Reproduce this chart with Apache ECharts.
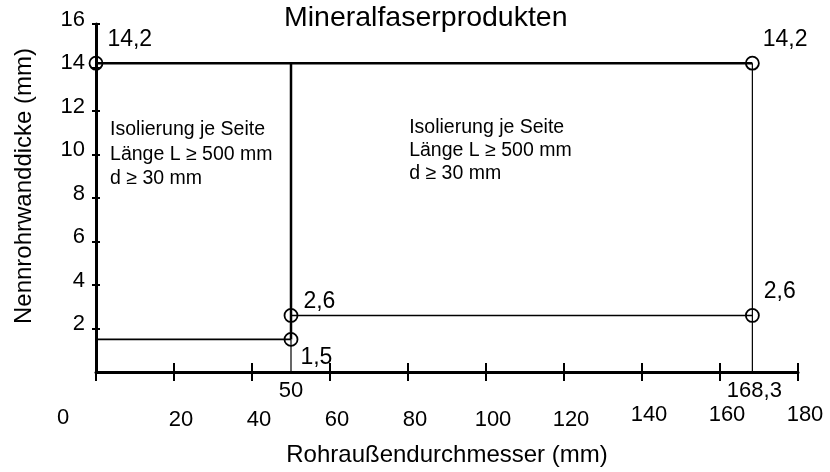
<!DOCTYPE html>
<html>
<head>
<meta charset="utf-8">
<script src="https://cdn.jsdelivr.net/npm/echarts@6.0.0/dist/echarts.min.js"></script>
<style>
html,body{margin:0;padding:0;background:#fff;}
#chart{width:830px;height:472px;}
</style>
</head>
<body>
<div id="chart"></div>
<script>
// ---- data ----
const titleText = 'Mineralfaserprodukten';
const xName = 'Rohraußendurchmesser (mm)';
const yName = 'Nennrohrwanddicke (mm)';
const xTicks = [0, 20, 40, 60, 80, 100, 120, 140, 160, 180];
const yTicks = [2, 4, 6, 8, 10, 12, 14, 16];
const pointX = [0, 168.3, 50, 50, 168.3];
const pointY = [14.2, 14.2, 2.6, 1.5, 2.6];
const pointLabels = ['14,2', '14,2', '2,6', '1,5', '2,6'];
const markX = [50, 168.3];
const markLabels = ['50', '168,3'];
const segStart = [[0, 14.2], [50, 14.2], [50, 1.5], [0, 1.5], [50, 2.6], [168.3, 14.2]];
const segEnd   = [[168.3, 14.2], [50, 1.5], [50, 0], [50, 1.5], [168.3, 2.6], [168.3, 0]];
const noteLines = ['Isolierung je Seite', 'Länge L ≥ 500 mm', 'd ≥ 30 mm'];
const noteAnchorX = [3.6, 80.3];
const noteAnchorY = [11.7, 11.75];

// ---- styles ----
const FONT = 'Liberation Sans, Arial, sans-serif';
const segWidths = [2.5, 2.5, 1.2, 1.6, 1.6, 1.2];
const labelOffsets = [[-1, -23], [-2, -23], [0, -14], [-3, 18], [-1, -24]];
const xMin = xTicks[0], xMax = xTicks[xTicks.length - 1];
const yMax = yTicks[yTicks.length - 1];

const series = [];
segStart.forEach((s, i) => {
  series.push({
    type: 'line', xAxisIndex: 0, yAxisIndex: 0,
    data: [s, segEnd[i]], symbol: 'none', silent: true, clip: false,
    lineStyle: { color: '#000', width: segWidths[i] }
  });
});
series.push({
  type: 'scatter', xAxisIndex: 0, yAxisIndex: 0,
  symbol: 'circle', symbolSize: 13,
  itemStyle: { color: 'rgba(0,0,0,0)', borderColor: '#000', borderWidth: 1.8, opacity: 1 },
  data: pointX.map((x, i) => ({
    value: [x, pointY[i]],
    label: {
      show: true, formatter: pointLabels[i], position: 'right', distance: 5,
      offset: labelOffsets[i], color: '#000', fontSize: 23, fontFamily: FONT
    }
  })),
  clip: false
});
series.push({
  type: 'scatter', xAxisIndex: 0, yAxisIndex: 0, symbolSize: 0, clip: false,
  itemStyle: { opacity: 1 },
  data: markX.map((x, i) => ({
    value: [x, 0],
    label: {
      show: true, formatter: markLabels[i], position: 'bottom', distance: 8,
      offset: [i === 1 ? 2 : 0, 0],
      color: '#000', fontSize: 22, fontFamily: FONT
    }
  }))
});
series.push({
  type: 'scatter', xAxisIndex: 0, yAxisIndex: 0, symbolSize: 0, clip: false,
  itemStyle: { opacity: 1 },
  data: noteAnchorX.map((x, i) => ({
    value: [x, noteAnchorY[i]],
    label: {
      show: true, formatter: noteLines.join('\n'), position: [0, 0],
      align: 'left', verticalAlign: 'top', lineHeight: i === 0 ? 24.5 : 23,
      color: '#000', fontSize: 19.5, fontFamily: FONT
    }
  }))
});

const richBase = { color: '#000', fontSize: 22, fontFamily: FONT };
const option = {
  animation: false,
  backgroundColor: '#fff',
  title: {
    text: titleText, left: 284, top: 4, padding: 0,
    textStyle: { color: '#000', fontSize: 28.5, fontWeight: 'normal', fontFamily: FONT }
  },
  grid: { left: 96, right: 32, top: 24, bottom: 96 },
  xAxis: [{
    type: 'value', min: xMin, max: xMax, interval: 20, position: 'bottom',
    name: xName, nameLocation: 'middle', nameGap: 71,
    nameTextStyle: { color: '#000', fontSize: 24, fontFamily: FONT },
    axisLine: { show: true, onZero: false, lineStyle: { color: '#000', width: 3 } },
    axisTick: { show: true, inside: false, length: 9, lineStyle: { color: '#000', width: 2 } },
    splitLine: { show: false },
    axisLabel: {
      show: true, margin: 32, verticalAlign: 'top',
      formatter: v => v === 0 ? '{z|0}' : (v >= 140 ? '{b|' + v + '}' : '{a|' + v + '}'),
      rich: {
        a: Object.assign({ padding: [5, 0, 0, 14] }, richBase),
        b: Object.assign({ padding: [0, 0, 0, 14] }, richBase),
        z: Object.assign({ padding: [3, 66, 0, 0] }, richBase)
      }
    }
  }, {
    type: 'value', min: xMin, max: xMax, interval: 20, position: 'bottom', offset: 0,
    axisLine: { show: false },
    axisTick: { show: true, inside: true, length: 9, lineStyle: { color: '#000', width: 2 } },
    axisLabel: { show: false }, splitLine: { show: false }
  }],
  yAxis: [{
    type: 'value', min: 0, max: yMax, interval: 2, position: 'left',
    name: yName, nameLocation: 'middle', nameGap: 60, nameRotate: 90,
    nameTextStyle: { color: '#000', fontSize: 24, fontFamily: FONT, padding: [0, 0, 0, 24] },
    axisLine: { show: true, onZero: false, lineStyle: { color: '#000', width: 3 } },
    axisTick: { show: true, inside: false, length: 4, lineStyle: { color: '#000', width: 2 } },
    splitLine: { show: false },
    axisLabel: {
      show: true, margin: 11, showMinLabel: false,
      verticalAlign: 'bottom', lineHeight: 9,
      formatter: v => (yTicks.indexOf(v) >= 0 ? String(v) : ''),
      color: '#000', fontSize: 22, fontFamily: FONT
    }
  }, {
    type: 'value', min: 0, max: yMax, interval: 2, position: 'left', offset: 0,
    axisLine: { show: false },
    axisTick: { show: true, inside: true, length: 4, lineStyle: { color: '#000', width: 2 } },
    axisLabel: { show: false }, splitLine: { show: false }
  }],
  series: series
};

const chart = echarts.init(document.getElementById('chart'), null, { renderer: 'canvas' });
chart.setOption(option);
</script>
</body>
</html>
